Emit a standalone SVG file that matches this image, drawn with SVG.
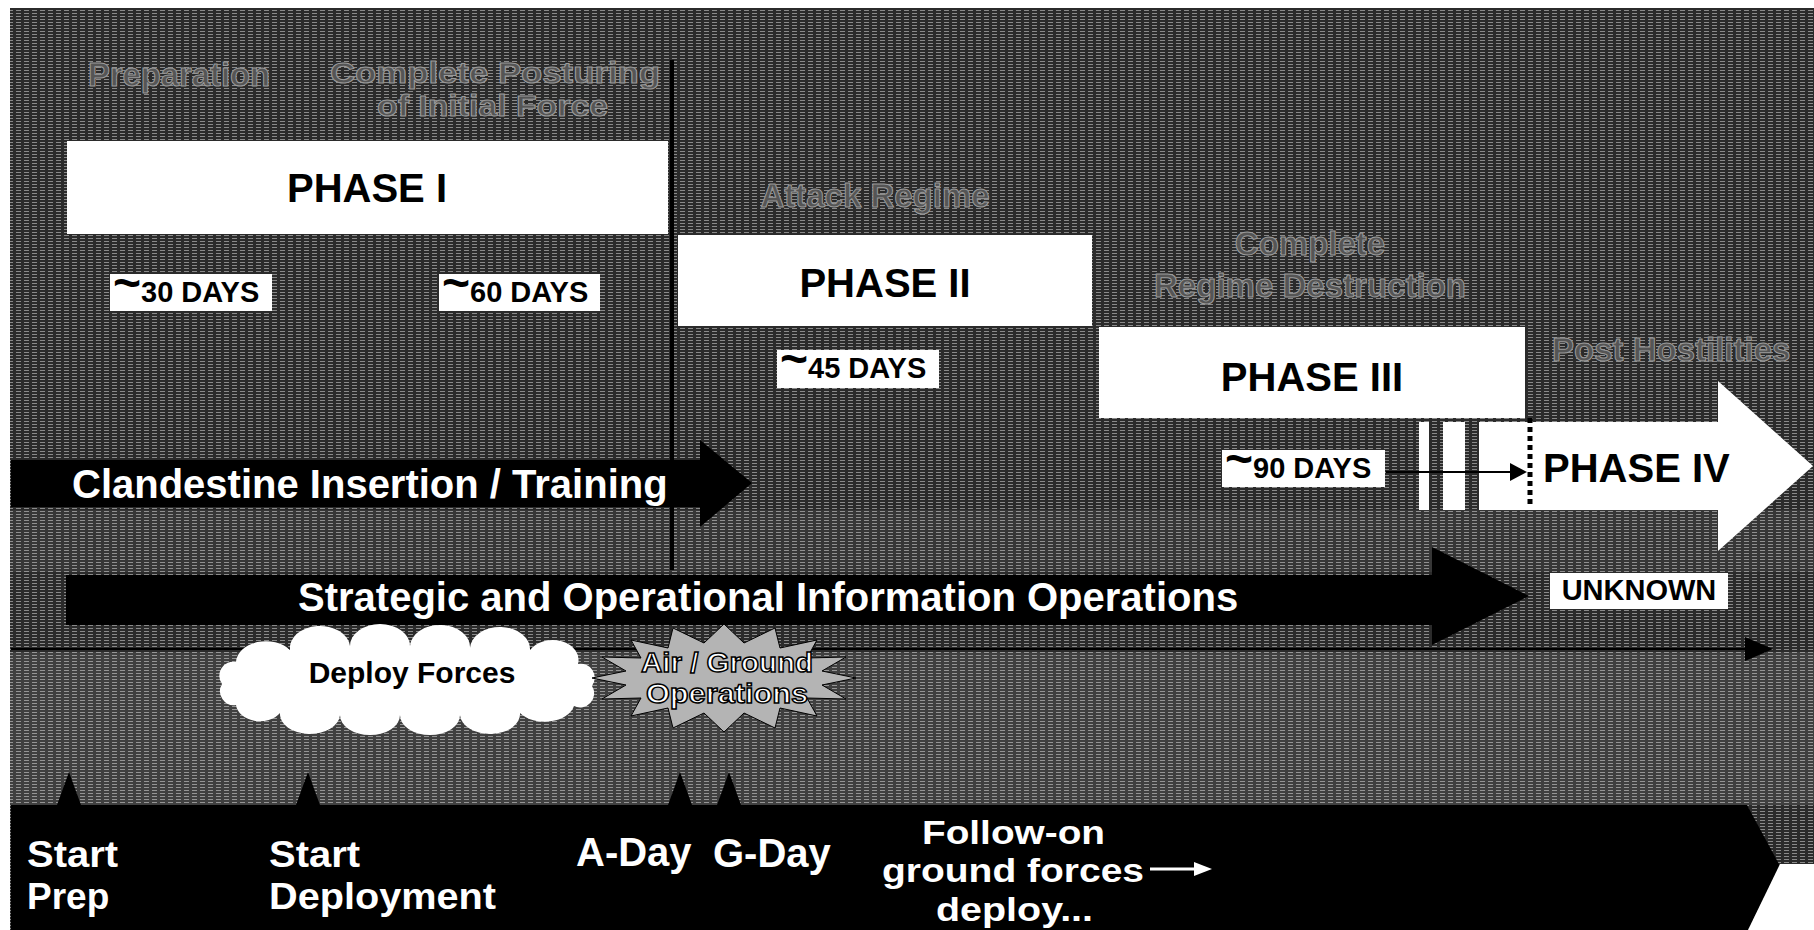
<svg xmlns="http://www.w3.org/2000/svg" width="1814" height="930" viewBox="0 0 1814 930">
<defs>
<pattern id="tex" width="8" height="3" patternUnits="userSpaceOnUse">
<rect width="8" height="3" fill="#2b2b2b"/>
<rect y="1" width="5" height="1" fill="#8a8a8a"/>
</pattern>
<marker id="ahBlackBig" markerUnits="userSpaceOnUse" markerWidth="28" markerHeight="24" refX="0" refY="12" orient="auto">
<path d="M0,0 L28,12 L0,24 z" fill="#000"/>
</marker>
<marker id="ahBlack" markerUnits="userSpaceOnUse" markerWidth="17" markerHeight="18" refX="0" refY="9" orient="auto">
<path d="M0,0 L17,9 L0,18 z" fill="#000"/>
</marker>
<marker id="ahWhite" markerUnits="userSpaceOnUse" markerWidth="18" markerHeight="14" refX="0" refY="7" orient="auto">
<path d="M0,0 L18,7 L0,14 z" fill="#fff"/>
</marker>
<style>
text{font-family:"Liberation Sans",Arial,sans-serif;font-weight:bold}
.big{font-size:40px}
.ms{font-size:37px}
.fo{font-size:34px}
.wt{fill:#fff}
.bk{fill:#000}
.days{font-size:29px;fill:#000}
.tilde{font-size:48px}
.ghost{font-size:33px;fill:#555;stroke:#9a9a9a;stroke-width:1}
.ghost2{font-size:29px;fill:#555;stroke:#9a9a9a;stroke-width:1}
.box{fill:#fff}
.band{fill:#000}
.ag{font-size:27px;fill:#fff;stroke:#000;stroke-width:1.4}
</style>
</defs>

<rect width="1814" height="930" fill="#fff"/>
<rect x="10" y="8" width="1804" height="922" fill="url(#tex)"/>
<rect x="10" y="652" width="1804" height="153" fill="#fff" opacity="0.1"/>
<rect x="10" y="510" width="1804" height="62" fill="#fff" opacity="0.06"/>

<g id="ghost-labels">
<text class="ghost" x="88" y="86" textLength="182" lengthAdjust="spacingAndGlyphs">Preparation</text>
<text class="ghost2" x="330" y="83" textLength="330" lengthAdjust="spacingAndGlyphs">Complete Posturing</text>
<text class="ghost2" x="377" y="116" textLength="231" lengthAdjust="spacingAndGlyphs">of Initial Force</text>
<text class="ghost" x="875" y="207" text-anchor="middle">Attack Regime</text>
<text class="ghost" x="1310" y="255" text-anchor="middle">Complete</text>
<text class="ghost" x="1154" y="297" textLength="312" lengthAdjust="spacingAndGlyphs">Regime Destruction</text>
<text class="ghost" x="1552" y="361">Post Hostilities</text>
</g>

<g id="connectors">
<line x1="672" y1="60" x2="672" y2="570" stroke="#000" stroke-width="4"/>
<line x1="11" y1="649" x2="1745" y2="649" stroke="#000" stroke-width="2" marker-end="url(#ahBlackBig)"/>
</g>

<g id="phase1">
<rect class="box" x="67" y="141" width="601" height="93"/>
<text class="big bk" x="367" y="202" text-anchor="middle">PHASE I</text>
</g>
<g id="phase2">
<rect class="box" x="678" y="235" width="414" height="91"/>
<text class="big bk" x="885" y="297" text-anchor="middle">PHASE II</text>
</g>
<g id="phase3">
<rect class="box" x="1099" y="327" width="426" height="91"/>
<text class="big bk" x="1312" y="391" text-anchor="middle">PHASE III</text>
</g>

<g id="days30">
<rect class="box" x="110" y="274" width="162" height="37"/>
<text class="days" x="113" y="302"><tspan class="tilde" dy="-3">~</tspan><tspan dy="3">30 DAYS</tspan></text>
</g>
<g id="days60">
<rect class="box" x="439" y="274" width="161" height="37"/>
<text class="days" x="442" y="302"><tspan class="tilde" dy="-3">~</tspan><tspan dy="3">60 DAYS</tspan></text>
</g>
<g id="days45">
<rect class="box" x="777" y="350" width="162" height="38"/>
<text class="days" x="780" y="378"><tspan class="tilde" dy="-3">~</tspan><tspan dy="3">45 DAYS</tspan></text>
</g>
<g id="days90">
<rect class="box" x="1222" y="450" width="163" height="37"/>
<text class="days" x="1225" y="478"><tspan class="tilde" dy="-3">~</tspan><tspan dy="3">90 DAYS</tspan></text>
</g>

<g id="phase4">
<rect class="box" x="1419" y="422" width="10" height="88"/>
<rect class="box" x="1443" y="422" width="22" height="88"/>
<polygon class="box" points="1479,422 1718,422 1718,381 1813,466 1718,551 1718,510 1479,510"/>
<line x1="1386" y1="472" x2="1510" y2="472" stroke="#000" stroke-width="2" marker-end="url(#ahBlack)"/>
<line x1="1530" y1="418" x2="1530" y2="508" stroke="#000" stroke-width="5" stroke-dasharray="5 4"/>
<text class="big bk" x="1543" y="482">PHASE IV</text>
</g>

<g id="unknown">
<rect class="box" x="1550" y="573" width="178" height="36"/>
<text class="days" x="1639" y="600" text-anchor="middle">UNKNOWN</text>
</g>

<g id="clandestine">
<polygon class="band" points="11,460 700,460 700,440 752,483 700,527 700,507 11,507"/>
<text class="big wt" x="72" y="498">Clandestine Insertion / Training</text>
</g>

<g id="strategic">
<polygon class="band" points="66,575 1432,575 1432,547 1529,596 1432,645 1432,625 66,625"/>
<text class="big wt" x="298" y="611">Strategic and Operational Information Operations</text>
</g>

<g id="deploy-forces">
<path class="box" d="M222,684 A14,14 0 0 1 236,662 A30,22 0 0 1 290,650 A30,22 0 0 1 350,646 A30,22 0 0 1 410,646 A30,22 0 0 1 470,648 A30,22 0 0 1 530,650 A26,20 0 0 1 578,664 A14,14 0 0 1 592,686 A14,14 0 0 1 574,706 A30,20 0 0 1 520,713 A30,20 0 0 1 460,715 A30,20 0 0 1 400,715 A30,20 0 0 1 340,715 A30,20 0 0 1 280,713 A24,18 0 0 1 236,705 A14,14 0 0 1 222,684 Z"/>
<text class="bk" x="412" y="683" text-anchor="middle" font-size="30">Deploy Forces</text>
</g>

<g id="air-ground">
<polygon fill="#b4b4b4" stroke="#000" stroke-width="1" points="856,678 822,685 846,699 807,698 817,716 780,708 775,728 744,713 724,732 704,713 673,728 668,708 631,716 641,698 602,699 626,685 592,678 626,671 602,657 641,658 631,640 668,648 673,628 704,643 724,624 744,643 775,628 780,648 817,640 807,658 846,657 822,671"/>
<text class="ag" x="641" y="672" textLength="172" lengthAdjust="spacingAndGlyphs">Air / Ground</text>
<text class="ag" x="646" y="703" textLength="162" lengthAdjust="spacingAndGlyphs">Operations</text>
</g>

<g id="timeline">
<polygon class="band" points="11,805 57,805 69,772 81,805 296,805 308,772 320,805 668,805 680,772 692,805 717,805 729,772 741,805 1747,805 1780,866 1748,930 11,930"/>
<polygon fill="#fff" points="1780,864 1814,864 1814,930 1748,930"/>
</g>

<g id="m-start-prep">
<text class="ms wt" x="27" y="867" textLength="91" lengthAdjust="spacingAndGlyphs">Start</text>
<text class="ms wt" x="27" y="909">Prep</text>
</g>
<g id="m-start-deployment">
<text class="ms wt" x="269" y="867" textLength="91" lengthAdjust="spacingAndGlyphs">Start</text>
<text class="ms wt" x="269" y="909" textLength="227" lengthAdjust="spacingAndGlyphs">Deployment</text>
</g>
<g id="m-a-day">
<text class="big wt" x="576" y="866">A-Day</text>
</g>
<g id="m-g-day">
<text class="big wt" x="713" y="867">G-Day</text>
</g>
<g id="m-follow-on">
<text class="fo wt" x="922" y="844" textLength="183" lengthAdjust="spacingAndGlyphs">Follow-on</text>
<text class="fo wt" x="882" y="882" textLength="262" lengthAdjust="spacingAndGlyphs">ground forces</text>
<text class="fo wt" x="936" y="921" textLength="157" lengthAdjust="spacingAndGlyphs">deploy...</text>
<line x1="1150" y1="869" x2="1194" y2="869" stroke="#fff" stroke-width="3" marker-end="url(#ahWhite)"/>
</g>
</svg>
